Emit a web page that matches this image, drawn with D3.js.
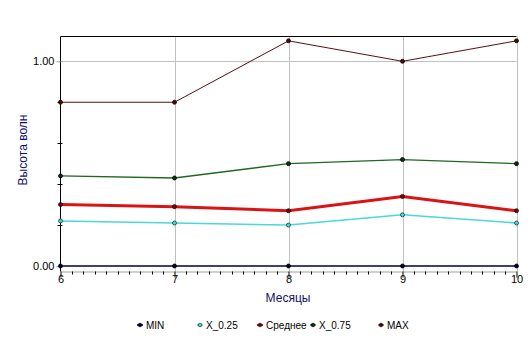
<!DOCTYPE html>
<html>
<head>
<meta charset="utf-8">
<script src="https://cdn.jsdelivr.net/npm/d3@7"></script>
<style>
  html, body { margin: 0; padding: 0; background: #fff; }
  svg { display: block; font-family: "Liberation Sans", Arial, sans-serif; }
</style>
</head>
<body>
<svg id="chart" width="532" height="347"></svg>
<script>
// Months on the x axis
const months = [6, 7, 8, 9, 10];

// Wave height statistics per month
const seriesNames = ["MIN", "X_0.25", "Среднее", "X_0.75", "MAX"];
const minValues  = [0.00, 0.00, 0.00, 0.00, 0.00];
const q25Values  = [0.22, 0.21, 0.20, 0.25, 0.21];
const meanValues = [0.30, 0.29, 0.27, 0.34, 0.27];
const q75Values  = [0.44, 0.43, 0.50, 0.52, 0.50];
const maxValues  = [0.80, 0.80, 1.10, 1.00, 1.10];

const yTickLabels = [0, 1];
const yMinorTicks = [0.2, 0.4, 0.6, 0.8];

const series = [
  { name: seriesNames[0], values: minValues,  color: "#000040", width: 1.6, fill: "#000040", stroke: "#000" },
  { name: seriesNames[1], values: q25Values,  color: "#4ad8d8", width: 1.6, fill: "#4ad8d8", stroke: "#1a3a3a" },
  { name: seriesNames[2], values: meanValues, color: "#d81414", width: 3,   fill: "#601010", stroke: "#300" },
  { name: seriesNames[3], values: q75Values,  color: "#206820", width: 1.3, fill: "#103010", stroke: "#000" },
  { name: seriesNames[4], values: maxValues,  color: "#581010", width: 1,   fill: "#401010", stroke: "#200" }
];

const svg = d3.select("#chart");
const plotLeft = 60.5, plotRight = 516.5, plotTop = 36.5, zeroY = 266, axisY = 271.5;

const x = d3.scaleLinear().domain([6, 10]).range([plotLeft, plotRight]);
const y = d3.scaleLinear().domain([0, 1]).range([zeroY, 61.3]);

// Vertical grid lines
svg.append("g").selectAll("line").data(months.slice(1)).join("line")
  .attr("x1", d => Math.round(x(d)) + 0.5).attr("x2", d => Math.round(x(d)) + 0.5)
  .attr("y1", plotTop).attr("y2", axisY)
  .attr("stroke", "#c0c0c0").attr("stroke-width", 1);

// Horizontal grid line at 1.00
svg.append("line")
  .attr("x1", plotLeft).attr("x2", plotRight)
  .attr("y1", Math.round(y(1)) + 0.5).attr("y2", Math.round(y(1)) + 0.5)
  .attr("stroke", "#c0c0c0");

// Top frame
svg.append("line").attr("x1", plotLeft).attr("x2", plotRight).attr("y1", plotTop).attr("y2", plotTop)
  .attr("stroke", "#000");

// X axis: major and minor ticks
const xAxis = d3.axisBottom(x).tickValues(months).tickFormat(d3.format("d")).tickSize(6).tickSizeOuter(0);
const gx = svg.append("g").attr("transform", `translate(0,${axisY})`).call(xAxis);
gx.select(".domain").attr("stroke", "#a0a0a0");
gx.selectAll(".tick line").attr("stroke", "#000");
gx.selectAll(".tick text").attr("font-size", 11).attr("fill", "#000")
  .attr("font-family", "Liberation Sans, Arial, sans-serif").attr("dy", "0.45em").attr("y", 7);
const minorX = d3.range(6, 10.001, 0.1).filter(v => Math.abs(v - Math.round(v)) > 0.01);
svg.append("g").selectAll("line").data(minorX).join("line")
  .attr("x1", d => Math.round(x(d)) + 0.5).attr("x2", d => Math.round(x(d)) + 0.5)
  .attr("y1", axisY).attr("y2", axisY + 3).attr("stroke", "#000");

// Y axis
svg.append("line").attr("x1", plotLeft).attr("x2", plotLeft).attr("y1", plotTop).attr("y2", axisY)
  .attr("stroke", "#000");
const gy = svg.append("g").attr("transform", `translate(${plotLeft},0)`)
  .call(d3.axisLeft(y).tickValues(yTickLabels).tickFormat(d3.format(".2f")).tickSize(4).tickSizeOuter(0));
gy.select(".domain").remove();
gy.selectAll(".tick line").attr("stroke", "#a0a0a0");
gy.selectAll(".tick text").attr("font-size", 11).attr("fill", "#000")
  .attr("font-family", "Liberation Sans, Arial, sans-serif").attr("x", -6);
svg.append("g").selectAll("line").data(yMinorTicks).join("line")
  .attr("x1", plotLeft - 3).attr("x2", plotLeft + 2)
  .attr("y1", d => Math.round(y(d)) + 0.5).attr("y2", d => Math.round(y(d)) + 0.5)
  .attr("stroke", "#000");

// Axis titles
svg.append("text").attr("x", 288).attr("y", 302).attr("text-anchor", "middle")
  .attr("font-size", 12).attr("fill", "#10106a").text("Месяцы");
svg.append("text").attr("transform", "translate(27,150) rotate(-90)").attr("text-anchor", "middle")
  .attr("font-size", 12).attr("fill", "#10106a").text("Высота волн");

// Series lines and point markers
const line = d3.line().x((d, i) => x(months[i])).y(d => y(d));
series.forEach(s => {
  svg.append("path").datum(s.values).attr("d", line)
    .attr("fill", "none").attr("stroke", s.color).attr("stroke-width", s.width);
});
series.forEach(s => {
  svg.append("g").selectAll("circle").data(s.values).join("circle")
    .attr("cx", (d, i) => x(months[i])).attr("cy", d => y(d)).attr("r", 2)
    .attr("fill", s.fill).attr("stroke", s.stroke).attr("stroke-width", 0.8);
});

// Legend
const legendX = [140, 200, 260, 313, 381];
const legendY = 325;
const lg = svg.append("g");
series.forEach((s, i) => {
  const g = lg.append("g").attr("transform", `translate(${legendX[i]},${legendY})`);
  g.append("line").attr("x1", -3).attr("x2", 3).attr("y1", 0).attr("y2", 0)
    .attr("stroke", s.color).attr("stroke-width", Math.min(s.width, 2));
  g.append("circle").attr("r", 1.8).attr("fill", s.fill).attr("stroke", s.stroke).attr("stroke-width", 0.7);
  g.append("text").attr("x", 6).attr("y", 0).attr("dy", "0.35em")
    .attr("font-size", 10).attr("fill", "#000").text(s.name);
});
</script>
</body>
</html>
